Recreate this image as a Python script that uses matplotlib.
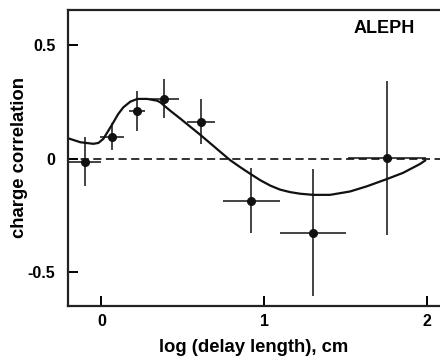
import matplotlib
matplotlib.use("Agg")
import matplotlib.pyplot as plt

# data points
x_pts = [-0.10, 0.067, 0.22, 0.386, 0.61, 0.92, 1.30, 1.755]
y_pts = [-0.013, 0.097, 0.21, 0.264, 0.163, -0.185, -0.326, 0.004]
yerr = [0.11, 0.06, 0.09, 0.085, 0.10, 0.145, 0.28, 0.34]
xerr = [0.10, 0.075, 0.05, 0.09, 0.085, 0.175, 0.20, 0.24]

# fitted curve
x_fit = [-0.202, -0.129, -0.049, -0.018, 0.012, 0.043, 0.074, 0.104, 0.135,
         0.178, 0.221, 0.282, 0.343, 0.362, 0.390, 0.423, 0.485, 0.607, 0.699,
         0.730, 0.791, 0.853, 0.914, 0.975, 1.037, 1.098, 1.160, 1.221, 1.301,
         1.405, 1.528, 1.632, 1.755, 1.853, 1.957, 1.988]
y_fit = [0.089, 0.072, 0.065, 0.069, 0.087, 0.123, 0.160, 0.197, 0.226,
         0.251, 0.263, 0.263, 0.255, 0.248, 0.231, 0.211, 0.176, 0.105, 0.049,
         0.030, -0.007, -0.038, -0.067, -0.095, -0.119, -0.137, -0.148, -0.155,
         -0.160, -0.160, -0.145, -0.122, -0.090, -0.063, -0.024, -0.009]

xticks = [0, 1, 2]
yticks = [-0.5, 0, 0.5]
ytick_labels = ["-0.5", "0", "0.5"]

plt.rcParams['font.family'] = ['Liberation Sans', 'DejaVu Sans']
plt.rcParams['font.weight'] = 'bold'

fig = plt.figure(figsize=(4.4, 3.58), dpi=100)
ax = fig.add_axes([68/440, 1-306/358, 1-68/440, (306-10)/358])

ax.set_xlim(-0.205, 2.08)
ax.set_ylim(-0.65, 0.655)

ax.axhline(0, color='#222222', lw=1.3, ls=(0, (4.5, 2.5)), zorder=1)
ax.plot(x_fit, y_fit, color='#111111', lw=1.6, zorder=2,
        solid_joinstyle='round')
ax.errorbar(x_pts, y_pts, yerr=yerr, xerr=xerr, fmt='o', color='#111111',
            ms=5.5, elinewidth=1.1, capsize=0, zorder=3)

ax.set_xticks(xticks)
ax.set_yticks(yticks)
ax.set_yticklabels(ytick_labels)
ax.tick_params(direction='in', length=7, width=1.4, labelsize=11.5)
ax.tick_params(axis='y', pad=9)
ax.tick_params(axis='x', pad=6)
for lab in ax.get_xticklabels() + ax.get_yticklabels():
    lab.set_fontweight('bold')

for s in ['left', 'bottom', 'top']:
    ax.spines[s].set_linewidth(1.6)
    ax.spines[s].set_color('#222222')
ax.spines['right'].set_visible(False)

ax.set_xlabel("log (delay length), cm", fontsize=13.3, fontweight='bold', labelpad=7)
ax.set_ylabel("charge correlation", fontsize=13.3, fontweight='bold', labelpad=0)

ax.text(0.933, 0.965, "ALEPH", transform=ax.transAxes, ha='right', va='top',
        fontsize=13, fontweight='bold')

fig.savefig("out.png", dpi=100)
